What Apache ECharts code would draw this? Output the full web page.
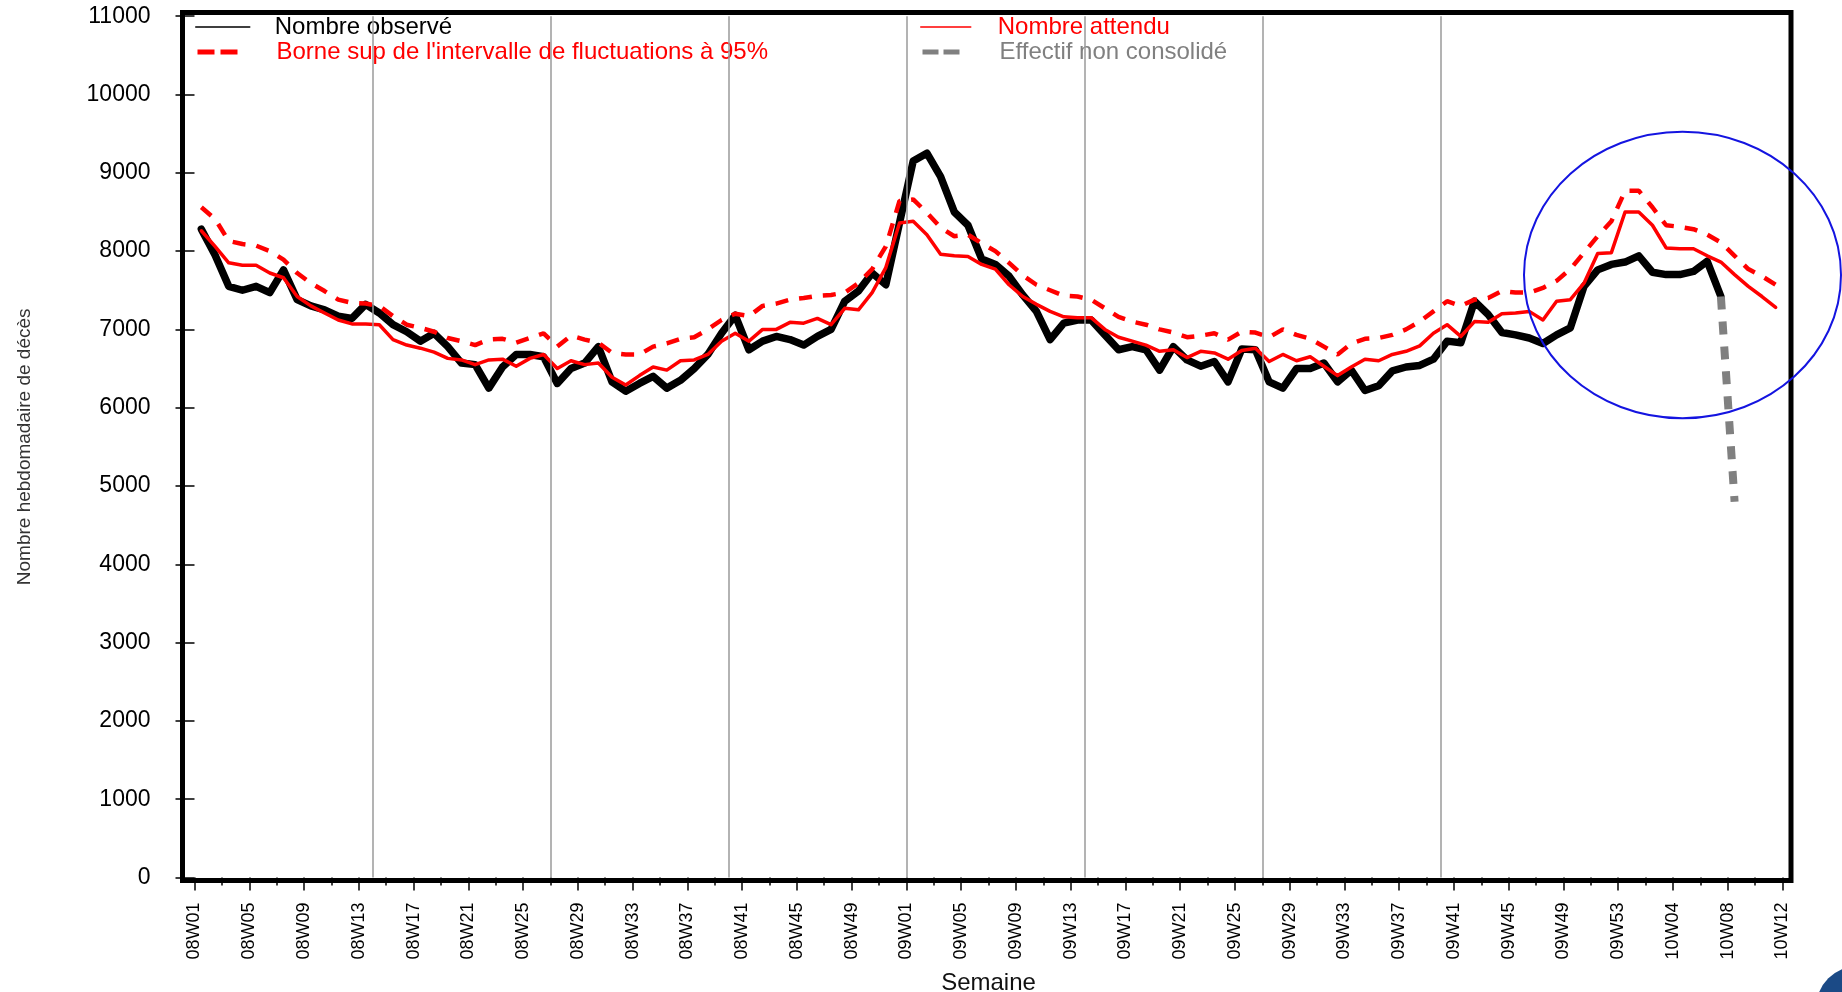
<!DOCTYPE html>
<html lang="fr">
<head>
    <meta charset="UTF-8">
    <title>Nombre hebdomadaire de décès</title>
    <script src="https://cdn.jsdelivr.net/npm/echarts@6/dist/echarts.min.js"></script>
    <style>
        html, body {
            margin: 0;
            padding: 0;
            background: #fff;
        }
        #main {
            width: 1842px;
            height: 992px;
        }
    </style>
</head>
<body>
<div id="main"></div>
<script>
    // semaines 08W01 ... 10W12
    var weeks = [];
    [['08', 52], ['09', 53], ['10', 12]].forEach(function (y) {
        for (var w = 1; w <= y[1]; w++) {
            weeks.push(y[0] + 'W' + (w < 10 ? '0' + w : w));
        }
    });

    // Nombre observé, 08W01 -> 10W07
    var observed = [
        8280, 7950, 7550, 7500, 7550, 7470, 7760, 7380, 7300, 7250,
        7170, 7140, 7320, 7210, 7060, 6970, 6850, 6950, 6780, 6570,
        6550, 6250, 6520, 6680, 6680, 6650, 6310, 6500, 6570, 6780,
        6330, 6210, 6310, 6400, 6250, 6350, 6500, 6680, 6950, 7180,
        6740, 6850, 6910, 6870, 6800, 6910, 7000, 7360, 7490, 7720,
        7570, 8360, 9150, 9250, 8950, 8500, 8330, 7900, 7830, 7680,
        7440, 7230, 6870, 7080, 7120, 7120, 6930, 6740, 6780, 6740,
        6480, 6780, 6610, 6530, 6590, 6330, 6750, 6740, 6330, 6250,
        6500, 6500, 6570, 6330, 6480, 6220, 6280, 6470, 6520, 6540,
        6620, 6850, 6830, 7360, 7190, 6960, 6930, 6890, 6820, 6930,
        7020, 7550, 7760, 7830, 7860, 7940, 7730, 7700, 7700, 7740,
        7870, 7420
    ];

    // Effectif non consolidé (semaine suivant la dernière observée)
    var nonConsolidated = [4800];

    // Nombre attendu, 08W01 -> 10W11
    var expected = [
        8260, 8060, 7850, 7820, 7820, 7720, 7660, 7420, 7300, 7210,
        7120, 7070, 7070, 7060, 6870, 6800, 6760, 6710, 6630, 6610,
        6550, 6610, 6620, 6530, 6630, 6680, 6500, 6600, 6550, 6570,
        6390, 6290, 6410, 6520, 6480, 6600, 6610, 6680, 6850, 6950,
        6850, 7000, 7000, 7090, 7080, 7140, 7060, 7270, 7250, 7470,
        7790, 8360, 8380, 8210, 7960, 7940, 7930, 7830, 7770, 7570,
        7420, 7320, 7230, 7160, 7150, 7150, 7000, 6900, 6850, 6800,
        6720, 6740, 6640, 6720, 6700, 6620, 6730, 6760, 6590, 6680,
        6600, 6650, 6530, 6410, 6520, 6620, 6600, 6680, 6720, 6790,
        6950, 7060, 6910, 7100, 7090, 7200, 7210, 7230, 7120, 7360,
        7380, 7590, 7970, 7980, 8500, 8500, 8330, 8040, 8030, 8030,
        7940, 7860, 7700, 7550, 7420, 7280
    ];

    // Borne sup de l'intervalle de fluctuations à 95%
    var upperBound = [
        8560, 8410, 8130, 8090, 8070, 8000, 7890, 7720, 7590, 7490,
        7380, 7340, 7330, 7300, 7170, 7060, 7020, 6970, 6890, 6850,
        6800, 6870, 6880, 6830, 6890, 6950, 6780, 6920, 6870, 6830,
        6700, 6680, 6680, 6780, 6820, 6880, 6900, 7000, 7120, 7200,
        7170, 7300, 7330, 7380, 7400, 7430, 7440, 7470, 7590, 7770,
        8060, 8640, 8660, 8490, 8300, 8190, 8210, 8100, 8000, 7850,
        7690, 7570, 7500, 7430, 7420, 7380, 7270, 7160, 7100, 7060,
        7000, 6960, 6900, 6920, 6950, 6870, 6970, 6960, 6900, 7000,
        6930, 6880, 6780, 6680, 6820, 6880, 6890, 6930, 7000, 7100,
        7230, 7360, 7300, 7380, 7400, 7490, 7470, 7470, 7530, 7620,
        7770, 7980, 8190, 8380, 8770, 8770, 8560, 8330, 8310, 8280,
        8210, 8110, 7940, 7770, 7680, 7570
    ];

    // traits verticaux (début de trimestre)
    var quarterLines = ['08W14', '08W27', '08W40', '09W01', '09W14', '09W27', '09W40'];

    var dataWeeks = weeks.slice(0, expected.length);

    // série grise : relie le dernier observé au non consolidé
    var greyData = dataWeeks.map(function () { return null; });
    greyData[observed.length - 1] = observed[observed.length - 1];
    nonConsolidated.forEach(function (v, i) {
        greyData[observed.length + i] = v;
    });

    var FONT = "'Liberation Sans', Arial, sans-serif";
    var NAME_OBS = 'Nombre observé';
    var NAME_EXP = 'Nombre attendu';
    var NAME_SUP = "Borne sup de l'intervalle de fluctuations à 95%";
    var NAME_NC = 'Effectif non consolidé';

    function legendItem(name, left, top, width, color, lineStyle, gap) {
        return {
            left: left,
            top: top,
            padding: 0,
            itemWidth: width,
            itemHeight: 14,
            selectedMode: false,
            data: [name],
            lineStyle: lineStyle,
            itemStyle: {opacity: 0, color: 'transparent', borderWidth: 0},
            textStyle: {
                color: color,
                fontSize: 24,
                fontFamily: FONT,
                padding: [0, 0, 0, gap]
            }
        };
    }

    var myChart = echarts.init(document.getElementById('main'));

    var option = {
        backgroundColor: '#fff',
        animation: false,
        textStyle: {fontFamily: FONT},
        grid: [
            {
                left: 194.5, width: 1588, top: 16.2, bottom: 114.5,
                containLabel: false, outerBoundsMode: 'none'
            },
            {
                left: 182.5, right: 51, top: 12.5, bottom: 111.5,
                containLabel: false, outerBoundsMode: 'none',
                show: true, borderColor: '#000', borderWidth: 5,
                backgroundColor: 'transparent'
            }
        ],
        legend: [
            legendItem(NAME_OBS, 195, 15, 54, '#000', {width: 1.5}, 20),
            legendItem(NAME_SUP, 195, 40, 40, '#ff0000', {width: 5, type: [17, 6]}, 34),
            legendItem(NAME_EXP, 920, 15, 50, '#ff0000', {width: 1.5}, 22),
            legendItem(NAME_NC, 920, 40, 37, '#808080', {width: 5, type: [16, 5]}, 35)
        ],
        xAxis: [
            {
                type: 'value',
                gridIndex: 0,
                min: 0,
                max: weeks.length - 1,
                interval: 4,
                position: 'bottom',
                axisLine: {show: false},
                splitLine: {show: false},
                axisTick: {show: true, length: 13, lineStyle: {color: '#000', width: 1.5}},
                minorTick: {show: true, splitNumber: 2, length: 8, lineStyle: {color: '#000', width: 1.5}},
                axisLabel: {
                    rotate: 90,
                    margin: 25,
                    fontSize: 18,
                    color: '#000',
                    fontFamily: FONT,
                    formatter: function (v) {
                        return weeks[v] || '';
                    }
                },
                name: 'Semaine',
                nameLocation: 'middle',
                nameGap: 94,
                nameTextStyle: {fontSize: 24, color: '#111', fontFamily: FONT}
            },
            {
                type: 'category',
                gridIndex: 0,
                data: dataWeeks,
                boundaryGap: true,
                show: false
            },
            {type: 'value', gridIndex: 1, show: false}
        ],
        yAxis: [
            {
                type: 'value',
                gridIndex: 0,
                min: 0,
                max: 11000,
                interval: 1000,
                offset: 12,
                axisLine: {show: false},
                splitLine: {show: false},
                axisTick: {show: true, length: 19, lineStyle: {color: '#000', width: 1.5}},
                axisLabel: {
                    fontSize: 23,
                    color: '#000',
                    margin: 32,
                    fontFamily: FONT,
                    formatter: function (v) {
                        return String(v);
                    }
                },
                name: 'Nombre hebdomadaire de décès',
                nameLocation: 'middle',
                nameGap: 148,
                nameTextStyle: {fontSize: 19, color: '#333', fontFamily: FONT}
            },
            {type: 'value', gridIndex: 1, show: false}
        ],
        series: [
            {
                type: 'line',
                xAxisIndex: 0,
                yAxisIndex: 0,
                data: [],
                silent: true,
                markLine: {
                    silent: true,
                    symbol: ['none', 'none'],
                    label: {show: false},
                    lineStyle: {color: '#9a9a9a', width: 1.5, type: 'solid'},
                    data: quarterLines.map(function (w) {
                        return {xAxis: weeks.indexOf(w)};
                    })
                }
            },
            {
                name: NAME_OBS,
                type: 'line',
                xAxisIndex: 1,
                yAxisIndex: 0,
                data: observed,
                symbol: 'none',
                z: 2,
                lineStyle: {color: '#000', width: 7.5, join: 'round', cap: 'round'},
                itemStyle: {color: '#000'}
            },
            {
                name: NAME_SUP,
                type: 'line',
                xAxisIndex: 1,
                yAxisIndex: 0,
                data: upperBound,
                symbol: 'none',
                z: 3,
                lineStyle: {color: '#ff0000', width: 4.5, type: [13, 11]},
                itemStyle: {color: '#ff0000'}
            },
            {
                name: NAME_EXP,
                type: 'line',
                xAxisIndex: 1,
                yAxisIndex: 0,
                data: expected,
                symbol: 'none',
                z: 4,
                lineStyle: {color: '#ff0000', width: 3.5, join: 'round', cap: 'round'},
                itemStyle: {color: '#ff0000'}
            },
            {
                name: NAME_NC,
                type: 'line',
                xAxisIndex: 1,
                yAxisIndex: 0,
                data: greyData,
                symbol: 'none',
                z: 5,
                lineStyle: {color: '#808080', width: 8, type: [13, 12]},
                itemStyle: {color: '#808080'}
            }
        ],
        graphic: [
            {
                type: 'ellipse',
                silent: true,
                z: 10,
                shape: {cx: 1682.5, cy: 275, rx: 158.5, ry: 143.3},
                style: {fill: 'none', stroke: '#1414e0', lineWidth: 2}
            },
            {
                // fragment de logo, coin inférieur droit
                type: 'circle',
                silent: true,
                shape: {cx: 1858, cy: 1008, r: 42},
                style: {fill: '#1b4a86'}
            }
        ]
    };

    myChart.setOption(option);
</script>
</body>
</html>
